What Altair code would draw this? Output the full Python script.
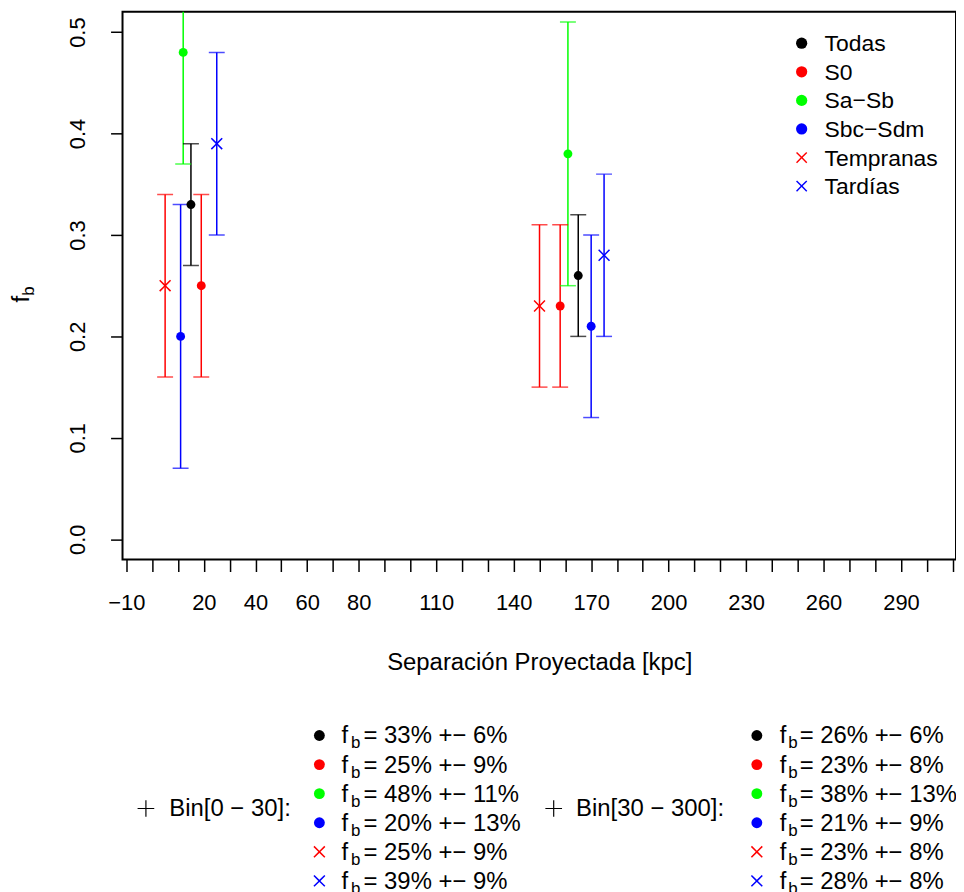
import altair as alt
import pandas as pd

# ---------------- data ----------------
grupos = ["Todas", "S0", "Sa\u2212Sb", "Sbc\u2212Sdm", "Tempranas", "Tard\u00edas"]
colores = ["#000000", "#FF0000", "#00FF00", "#0000FF", "#FF0000", "#0000FF"]
marcadores = ["circulo", "circulo", "circulo", "circulo", "cruz", "cruz"]

bin1_x = [15, 19, 12, 11, 5, 25]
bin1_fb = [0.33, 0.25, 0.48, 0.20, 0.25, 0.39]
bin1_err = [0.06, 0.09, 0.11, 0.13, 0.09, 0.09]

bin2_x = [165, 158, 161, 170, 150, 175]
bin2_fb = [0.26, 0.23, 0.38, 0.21, 0.23, 0.28]
bin2_err = [0.06, 0.08, 0.13, 0.09, 0.08, 0.08]

bin_labels = ["Bin[0 \u2212 30]:", "Bin[30 \u2212 300]:"]

x_ticks = list(range(-10, 311, 10))
x_labeled = [-10, 20, 40, 60, 80, 110, 140, 170, 200, 230, 260, 290]
y_ticks = [0.0, 0.1, 0.2, 0.3, 0.4, 0.5]

# ---------------- build tables ----------------
rows = []
for b, (xs, fbs, errs) in enumerate([(bin1_x, bin1_fb, bin1_err), (bin2_x, bin2_fb, bin2_err)]):
    for i, g in enumerate(grupos):
        rows.append({
            "bin": b, "idx": i, "grupo": g, "x": xs[i], "fb": fbs[i],
            "lo": round(fbs[i] - errs[i], 3), "hi": round(fbs[i] + errs[i], 3),
            "tipo": marcadores[i],
            "texto": f"= {round(fbs[i]*100)}% +\u2212 {round(errs[i]*100)}%",
        })
df = pd.DataFrame(rows)
leg_df = pd.DataFrame({"grupo": grupos, "idx": list(range(6))})

FONT = "Liberation Sans"
X_PATH = ("M-1,-0.82L-0.82,-1L0,-0.18L0.82,-1L1,-0.82L0.18,0L1,0.82L0.82,1"
          "L0,0.18L-0.82,1L-1,0.82L-0.18,0Z")
PLUS_PATH = "M-1,-0.07L1,-0.07L1,0.07L-1,0.07ZM-0.07,-1L0.07,-1L0.07,1L-0.07,1Z"
formas = ["circle" if m == "circulo" else X_PATH for m in marcadores]

xscale = alt.Scale(domain=[-11.5, 311.3], nice=False, zero=False)
yscale = alt.Scale(domain=[-0.02, 0.52], nice=False, zero=False)

lab_expr = ("indexof([" + ",".join(str(v) for v in x_labeled) +
            "], datum.value) >= 0 ? datum.label : ''")

X = alt.X("x:Q", scale=xscale, axis=alt.Axis(
    values=x_ticks, tickCount=60, labelExpr=lab_expr, labelOverlap=False, labelFlush=False,
    tickSize=12, tickWidth=1.5, tickColor="black", domain=False, grid=False,
    labelPadding=21, labelFontSize=22, labelFont=FONT, labelColor="black",
    title="Separaci\u00f3n Proyectada [kpc]", titleFont=FONT, titleFontSize=24,
    titleFontWeight="normal", titleColor="black", titlePadding=37))

Y_AX = alt.Axis(values=y_ticks, tickCount=10, format=".1f", labelAngle=270, labelAlign="center",
                labelBaseline="bottom", tickSize=12, tickWidth=1.5, tickColor="black",
                domain=False, grid=False, labelPadding=21, labelFontSize=22,
                labelFont=FONT, labelColor="black", title=None)

stroke_enc = alt.Stroke("grupo:N", scale=alt.Scale(domain=grupos, range=colores), legend=None)
fill_enc = alt.Fill("grupo:N", scale=alt.Scale(domain=grupos, range=colores), legend=None)
color_enc = alt.Color("grupo:N", scale=alt.Scale(domain=grupos, range=colores), legend=None)
shape_enc = alt.Shape("grupo:N", scale=alt.Scale(domain=grupos, range=formas), legend=None)

base = alt.Chart(df)

bars = base.mark_rule(strokeWidth=1.5, clip=True).encode(
    x=X, y=alt.Y("lo:Q", scale=yscale, axis=Y_AX), y2="hi:Q", stroke=stroke_enc)
caps_lo = base.mark_tick(orient="horizontal", size=16, thickness=1.5, clip=True).encode(
    x="x:Q", y="lo:Q", fill=fill_enc)
caps_hi = base.mark_tick(orient="horizontal", size=16, thickness=1.5, clip=True).encode(
    x="x:Q", y="hi:Q", fill=fill_enc)

pts_c = base.transform_filter("datum.tipo == 'circulo'").mark_point(
    filled=True, opacity=1, size=80).encode(
    x="x:Q", y="fb:Q", color=color_enc, shape=shape_enc)
pts_x = base.transform_filter("datum.tipo == 'cruz'").mark_point(
    filled=True, opacity=1, size=144).encode(
    x="x:Q", y="fb:Q", color=color_enc, shape=shape_enc)

layers = [bars, caps_lo, caps_hi, pts_c, pts_x]

one = pd.DataFrame({"k": [0]})
OX, OY = 123, 10   # page position of the plot origin


def text_layer(s, x, y, size, angle=0, align="left", baseline="alphabetic"):
    return alt.Chart(one).mark_text(
        font=FONT, fontSize=size, color="black", align=align,
        baseline=baseline, angle=angle).encode(
        x=alt.value(x), y=alt.value(y), text=alt.value(s))


# y axis title  f_b (rotated)
layers.append(text_layer("f", -94, 292, 24, angle=270))
layers.append(text_layer("b", -89, 285, 17, angle=270))

# top-right legend
for i in range(6):
    row = leg_df[leg_df["idx"] == i]
    yc = 41.5 + 28.7 * i - OY
    layers.append(alt.Chart(row).mark_point(
        shape=formas[i], filled=True, color=colores[i], opacity=1, size=127).encode(
        x=alt.value(805 - OX), y=alt.value(yc)))
    layers.append(alt.Chart(row).mark_text(
        font=FONT, fontSize=23, color="black", align="left", baseline="alphabetic").encode(
        x=alt.value(828 - OX), y=alt.value(yc + 8), text="grupo:N"))

# bottom legends
row_y = [736.7 + 29.2 * i for i in range(6)]
blocks = [
    {"plus": 146.5, "bin": 170, "sym": 320.7, "f": 343, "b": 352.5, "t": 365},
    {"plus": 556, "bin": 578.5, "sym": 760, "f": 783, "b": 791.5, "t": 803},
]
for b, blk in enumerate(blocks):
    layers.append(alt.Chart(one).mark_point(
        shape=PLUS_PATH, filled=True, color="black", opacity=1, size=280).encode(
        x=alt.value(blk["plus"] - OX), y=alt.value(810 - OY)))
    layers.append(text_layer(bin_labels[b], blk["bin"] - OX, 818 - OY, 24))
    sub = df[df["bin"] == b]
    for i in range(6):
        row = sub[sub["idx"] == i]
        yc = row_y[i] - OY
        size = 119 if marcadores[i] == "circulo" else 144
        layers.append(alt.Chart(row).mark_point(
            shape=formas[i], filled=True, color=colores[i], opacity=1, size=size).encode(
            x=alt.value(blk["sym"] - OX), y=alt.value(yc)))
        layers.append(text_layer("f", blk["f"] - OX, yc + 8, 24))
        layers.append(text_layer("b", blk["b"] - OX, yc + 13, 17))
        layers.append(alt.Chart(row).mark_text(
            font=FONT, fontSize=24, color="black", align="left",
            baseline="alphabetic").encode(
            x=alt.value(blk["t"] - OX), y=alt.value(yc + 8), text="texto:N"))

chart = alt.layer(*layers).properties(
    width=837, height=550, background="white",
    autosize=alt.AutoSizeParams(type="none"),
    padding={"left": 115, "top": 2, "right": 0, "bottom": 332},
).configure_view(stroke="black", strokeWidth=2)

chart.save("out.html", embed_options={"renderer": "svg", "actions": False})
